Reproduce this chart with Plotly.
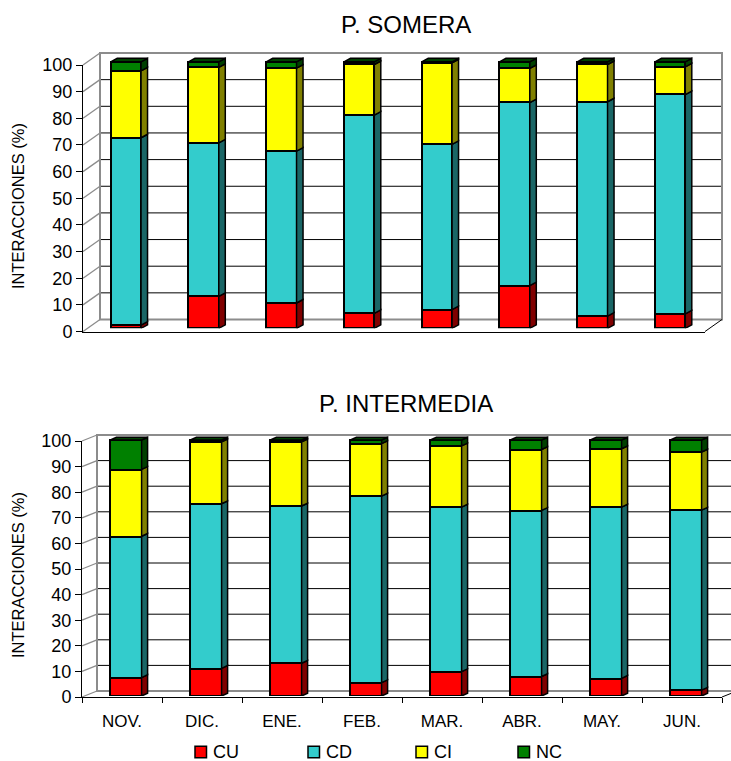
import numpy as np
import plotly.graph_objects as go

# ---- data (percent of interactions per month) ----
MESES = ["NOV.", "DIC.", "ENE.", "FEB.", "MAR.", "ABR.", "MAY.", "JUN."]
SERIES = ["CU", "CD", "CI", "NC"]

SOMERA_CU = [1.2, 12.0, 9.5, 5.6, 7.0, 16.0, 4.6, 5.4]
SOMERA_CD = [70.3, 57.6, 57.0, 74.4, 62.0, 68.7, 80.4, 82.3]
SOMERA_CI = [25.1, 28.3, 31.1, 19.0, 30.6, 12.8, 14.0, 10.4]
SOMERA_NC = [3.4, 2.1, 2.4, 1.0, 0.4, 2.5, 1.0, 1.9]

INTERMEDIA_CU = [7.2, 10.8, 12.8, 5.2, 9.5, 7.6, 6.9, 2.3]
INTERMEDIA_CD = [55.2, 64.3, 61.4, 72.9, 64.3, 64.9, 66.9, 70.3]
INTERMEDIA_CI = [26.1, 24.2, 25.1, 20.5, 23.9, 23.8, 22.8, 22.7]
INTERMEDIA_NC = [11.5, 0.7, 0.7, 1.4, 2.3, 3.7, 3.4, 4.7]

Y_TICKS = list(range(0, 101, 10))

FACE = {"CU": "#FF0000", "CD": "#33CCCC", "CI": "#FFFF00", "NC": "#008000"}
SIDE = {"CU": "#800000", "CD": "#1A6666", "CI": "#808000", "NC": "#004000"}
FONT = "Liberation Sans, Arial, sans-serif"

# ---- page geometry (pixels) ----
W, H = 731, 761


def fx(x):
    return x / W


def fy(y):
    return 1 - y / H


PANELS = [
    dict(title="P. SOMERA",
         values=[SOMERA_CU, SOMERA_CD, SOMERA_CI, SOMERA_NC],
         fx0=83, fx1=705, y0=331.5, y100=65.0,      # front plane
         wdx=17, wdy=-12, wall_right=722,          # depth of the 3-D box
         bdx=4, bdy=-3.2,                          # bars sit slightly inside the box
         sdx=6.5, sdy=3.5,                         # depth of each bar
         title_y=25, ytitle_y=206, labels=False),
    dict(title="P. INTERMEDIA",
         values=[INTERMEDIA_CU, INTERMEDIA_CD, INTERMEDIA_CI, INTERMEDIA_NC],
         fx0=82, fx1=722, y0=697.0, y100=441.0,
         wdx=15, wdy=-6, wall_right=750,
         bdx=4, bdy=-1.0,
         sdx=6, sdy=2.8,
         title_y=403, ytitle_y=575, labels=True),
]

BAR_W = 0.39
Y_TOP = 104  # headroom above 100 for the top faces of the bars

fig = go.Figure()
layout = dict(shapes=[], annotations=[])
x_idx = np.arange(len(MESES))

for i, p in enumerate(PANELS):
    nf, nb = 2 * i + 1, 2 * i + 2
    xf = "xaxis" if nf == 1 else f"xaxis{nf}"
    yf = "yaxis" if nf == 1 else f"yaxis{nf}"
    xref_f = "x" if nf == 1 else f"x{nf}"
    yref_f = "y" if nf == 1 else f"y{nf}"
    xb, yb = f"xaxis{nb}", f"yaxis{nb}"
    k = (p["y0"] - p["y100"]) / 100.0          # px per percent
    cat_px = (p["fx1"] - p["fx0"]) / len(MESES)

    # front axes: tick labels, axis lines
    xf_cfg = dict(domain=[fx(p["fx0"]), fx(p["fx1"])], range=[-0.5, len(MESES) - 0.5],
                  anchor=yref_f, showgrid=False, zeroline=False, automargin=False,
                  showline=True, linecolor="black", linewidth=1, fixedrange=True)
    if p["labels"]:
        xf_cfg.update(tickmode="array", tickvals=list(x_idx), ticktext=MESES, ticks="",
                      ticklabelstandoff=9,
                      tickfont=dict(family=FONT, size=17, color="black"),
                      minor=dict(tickmode="array", tickvals=list(np.arange(-0.5, len(MESES), 1.0)),
                                 ticks="outside", ticklen=5, tickcolor="black", tickwidth=1,
                                 showgrid=False))
    else:
        xf_cfg.update(showticklabels=False, ticks="")
    layout[xf] = xf_cfg
    layout[yf] = dict(domain=[fy(p["y0"]), fy(p["y100"])], range=[0, 100],
                      anchor=xref_f, tickmode="array", tickvals=Y_TICKS, automargin=False,
                      ticks="outside", ticklen=6, tickcolor="black", showline=True,
                      linecolor="black", linewidth=1, showgrid=False, zeroline=False,
                      tickfont=dict(family=FONT, size=18, color="black"), fixedrange=True)

    # bar axes (hidden), shifted into the depth of the box
    yb0 = p["y0"] + p["bdy"]
    layout[xb] = dict(domain=[fx(p["fx0"] + p["bdx"]), fx(p["fx1"] + p["bdx"])],
                      range=[-0.5, len(MESES) - 0.5], anchor=f"y{nb}", visible=False,
                      automargin=False, fixedrange=True)
    layout[yb] = dict(domain=[fy(yb0), fy(yb0 - Y_TOP * k)], range=[0, Y_TOP],
                      anchor=f"x{nb}", visible=False, automargin=False, fixedrange=True)

    # back wall, left wall and floor of the 3-D frame
    wx0, wx1 = p["fx0"] + p["wdx"], p["wall_right"]
    for v in Y_TICKS:
        yfront = p["y0"] - v * k
        yback = yfront + p["wdy"]
        if 0 < v < 100:
            layout["shapes"].append(dict(type="line", xref="paper", yref="paper", layer="below",
                                         x0=fx(wx0), x1=fx(wx1), y0=fy(yback), y1=fy(yback),
                                         line=dict(color="black", width=1)))
        layout["shapes"].append(dict(type="line", xref="paper", yref="paper", layer="below",
                                     x0=fx(p["fx0"]), x1=fx(wx0), y0=fy(yfront), y1=fy(yback),
                                     line=dict(color="#8C8C8C", width=1.3)))
    layout["shapes"].append(dict(type="rect", xref="paper", yref="paper", layer="below",
                                 x0=fx(wx0), x1=fx(wx1),
                                 y0=fy(p["y0"] + p["wdy"]), y1=fy(p["y100"] + p["wdy"]),
                                 line=dict(color="#8C8C8C", width=2)))
    layout["shapes"].append(dict(type="line", xref="paper", yref="paper", layer="below",
                                 x0=fx(p["fx1"]), x1=fx(p["fx1"] + p["wdx"]),
                                 y0=fy(p["y0"]), y1=fy(p["y0"] + p["wdy"]),
                                 line=dict(color="black", width=1)))

    # stacked bars (front faces) and their 3-D side/top faces
    ddx = p["sdx"] / cat_px
    ddy = p["sdy"] / k
    base = np.zeros(len(MESES))
    for name, vals in zip(SERIES, p["values"]):
        vals = np.asarray(vals, dtype=float)
        fig.add_trace(go.Bar(x=x_idx, y=vals, name=name, width=BAR_W,
                             marker=dict(color=FACE[name], line=dict(color="black", width=2)),
                             xaxis=f"x{nb}", yaxis=f"y{nb}", showlegend=False))
        sx, sy = [], []
        for j in range(len(MESES)):
            xr = x_idx[j] + BAR_W / 2
            b, t = base[j], base[j] + vals[j]
            sx += [xr, xr + ddx, xr + ddx, xr, xr, None]
            sy += [b, b + ddy, t + ddy, t, b, None]
        fig.add_trace(go.Scatter(x=sx, y=sy, mode="lines", fill="toself",
                                 fillcolor=SIDE[name], line=dict(color="black", width=1.5),
                                 xaxis=f"x{nb}", yaxis=f"y{nb}", showlegend=False,
                                 hoverinfo="skip"))
        base = base + vals
    tx, ty = [], []
    for j in range(len(MESES)):
        xl, xr = x_idx[j] - BAR_W / 2, x_idx[j] + BAR_W / 2
        T = base[j]
        tx += [xl, xl + ddx, xr + ddx, xr, xl, None]
        ty += [T, T + ddy, T + ddy, T, T, None]
    fig.add_trace(go.Scatter(x=tx, y=ty, mode="lines", fill="toself",
                             fillcolor=SIDE[SERIES[-1]], line=dict(color="black", width=1.5),
                             xaxis=f"x{nb}", yaxis=f"y{nb}", showlegend=False,
                             hoverinfo="skip"))
    # totals on the front axes (draws nothing; keeps the labelled axes active)
    fig.add_trace(go.Scatter(x=x_idx, y=base, mode="none", xaxis=xref_f, yaxis=yref_f,
                             showlegend=False, hoverinfo="skip"))

    # titles
    layout["annotations"].append(dict(text=p["title"], xref="paper", yref="paper",
                                      x=fx(406), y=fy(p["title_y"]), xanchor="center",
                                      yanchor="middle", showarrow=False,
                                      font=dict(family=FONT, size=24, color="black")))
    layout["annotations"].append(dict(text="INTERACCIONES (%)", xref="paper", yref="paper",
                                      x=fx(18), y=fy(p["ytitle_y"]), xanchor="center",
                                      yanchor="middle", textangle=-90, showarrow=False,
                                      font=dict(family=FONT, size=16.5, color="black")))

# legend drawn as swatches with labels
LEGEND_X = [195, 308, 416, 518]
LEGEND_Y = 752
SW = 11.5
for name, lx in zip(SERIES, LEGEND_X):
    layout["shapes"].append(dict(type="rect", xref="paper", yref="paper",
                                 x0=fx(lx), x1=fx(lx + SW),
                                 y0=fy(LEGEND_Y + SW / 2), y1=fy(LEGEND_Y - SW / 2),
                                 fillcolor=FACE[name], line=dict(color="black", width=1.5)))
    layout["annotations"].append(dict(text=name, xref="paper", yref="paper",
                                      x=fx(lx + SW + 4), y=fy(LEGEND_Y), xanchor="left",
                                      yanchor="middle", showarrow=False,
                                      font=dict(family=FONT, size=18, color="black")))

fig.update_layout(**layout)
fig.update_layout(width=W, height=H,
                  margin=dict(l=0, r=0, t=0, b=0, pad=0, autoexpand=False),
                  paper_bgcolor="white", plot_bgcolor="rgba(0,0,0,0)",
                  barmode="stack", bargap=0, showlegend=False)

fig.write_html("out.html")
